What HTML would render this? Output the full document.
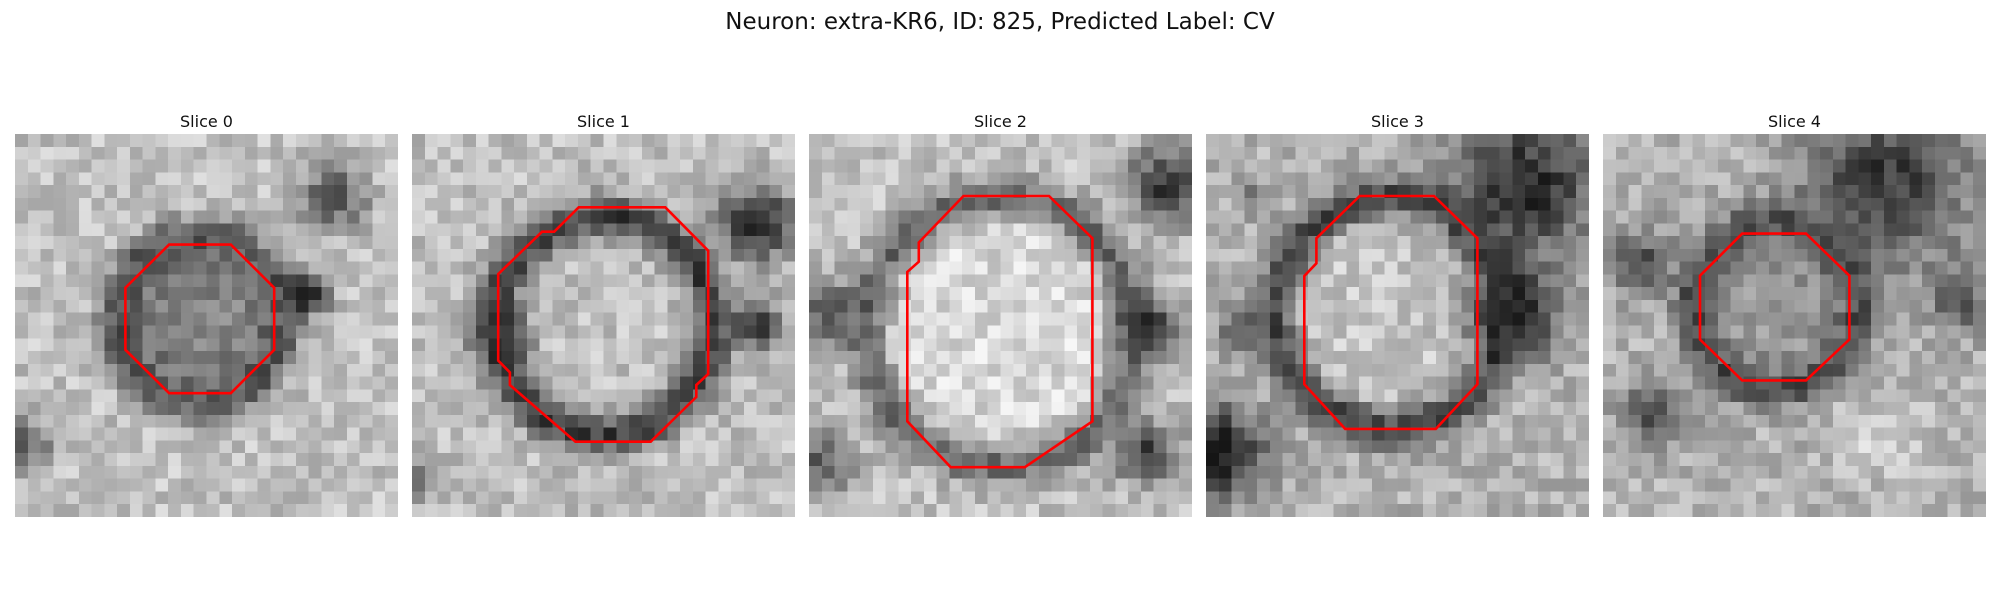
<!DOCTYPE html>
<html><head><meta charset="utf-8"><style>
body{margin:0;background:#fff;width:2000px;height:600px;overflow:hidden;font-family:"DejaVu Sans","Liberation Sans",sans-serif;position:relative}
#title{position:absolute;left:0;width:2000px;top:9px;text-align:center;font-size:23px;color:#111}
.st{position:absolute;top:112px;width:383px;text-align:center;font-size:16px;color:#111}
canvas{position:absolute;top:134px;width:383px;height:383px;image-rendering:pixelated}
svg{position:absolute;left:0;top:0}
</style></head><body>
<div id="title">Neuron: extra-KR6, ID: 825, Predicted Label: CV</div>
<div id="wrap"></div>
<svg id="ov" width="2000" height="600"></svg>
<script>
const panelX=[15,412,809,1206,1603];
const sliceNames=["Slice 0","Slice 1","Slice 2","Slice 3","Slice 4"];
const polys=[
[[12.07,8.66],[16.9,8.66],[20.3,12.05],[20.3,16.9],[16.9,20.3],[12.07,20.3],[8.65,16.9],[8.65,12.05]],
[[13.06,5.74],[19.84,5.74],[23.2,9.14],[23.2,18.8],[22.27,19.66],[22.27,20.6],[18.7,24.1],[12.8,24.1],[7.67,19.66],[7.67,18.67],[6.75,17.75],[6.75,10.97],[10.19,7.65],[11.14,7.65]],
[[12.1,4.86],[18.8,4.86],[22.2,8.17],[22.2,22.5],[16.9,26.1],[11.1,26.1],[7.7,22.5],[7.7,10.8],[8.6,10.0],[8.6,8.5]],
[[12.04,4.86],[17.86,4.86],[21.26,8.17],[21.26,19.6],[18,23.1],[10.9,23.1],[7.7,19.6],[7.7,11.12],[8.65,10.13],[8.65,8.17]],
[[10.9,7.8],[15.9,7.8],[19.3,11.1],[19.3,16.1],[15.9,19.3],[10.9,19.3],[7.6,16.1],[7.6,11.1]]
];
const centers=[[14.5,14.5],[15,15],[15,15.5],[14.5,14],[13.5,13.5]];
const radii=[6.5,8.5,10.5,9,6.5];
const inner=[0.5,0.76,0.85,0.78,0.6];
const ringv=[0.33,0.25,0.4,0.28,0.3];
const bgv=[0.76,0.75,0.76,0.7,0.7];
const blobs=[
[[23,12.5,1.6,0.05],[25,5,2.5,0.33],[0.5,24.5,2.2,0.35]],
[[27,7,2.8,0.1],[27,15,2,0.2],[7,16,2,0.15],[0,27,1.5,0.3]],
[[28,4,3,0.2],[26.5,15,2.5,0.22],[26.5,25,2.5,0.25],[1.5,14,2.5,0.35],[1,26,2.5,0.35]],
[[25,4,5.5,0.15],[24,14,3.5,0.1],[1,25,3.5,0.08],[3,15,2,0.3],[4,5,1.5,0.5]],
[[22,4,6.5,0.22],[28,13,2.5,0.35],[3,10,2.5,0.3],[4,22,2.5,0.3],[22,24,3,0.85]]
];
function hash(i,j,k){let h=(i*374761393+j*668265263+k*2147483647)|0;h=(h^(h>>>13))*1274126177|0;return ((h^(h>>>16))>>>0)/4294967295;}
const wrap=document.getElementById('wrap');
const ov=document.getElementById('ov');
const cell=383/30;
for(let p=0;p<5;p++){
  const t=document.createElement('div');t.className='st';t.style.left=panelX[p]+'px';t.textContent=sliceNames[p];
  
  
  wrap.appendChild(t);
  const c=document.createElement('canvas');c.width=30;c.height=30;c.style.left=panelX[p]+'px';
  
  
  wrap.appendChild(c);
  const g=c.getContext('2d');
  for(let y=0;y<30;y++)for(let x=0;x<30;x++){
    const dx=x+0.5-centers[p][0],dy=y+0.5-centers[p][1],d=Math.hypot(dx,dy);
    let v=d<radii[p]?inner[p]:bgv[p];
    const r=Math.exp(-Math.pow((d-radii[p])/1.6,2));
    v=v*(1-r)+ringv[p]*r;
    for(const b of blobs[p]){const bd=Math.hypot(x+0.5-b[0],y+0.5-b[1]);const w=Math.exp(-Math.pow(bd/b[2],2));v=v*(1-w)+b[3]*w;}
    v+=(hash(x,y,p)-0.5)*0.24;
    v=Math.max(0,Math.min(1,v));
    const q=Math.round(v*255);
    g.fillStyle=`rgb(${q},${q},${q})`;g.fillRect(x,y,1,1);
  }
  const pl=document.createElementNS('http://www.w3.org/2000/svg','polygon');
  pl.setAttribute('points',polys[p].map(pt=>(panelX[p]+pt[0]*cell).toFixed(1)+','+(134+pt[1]*cell).toFixed(1)).join(' '));
  pl.setAttribute('fill','none');pl.setAttribute('stroke','#ff0000');pl.setAttribute('stroke-width','2.6');
  
  
  ov.appendChild(pl);
}
</script>
</body></html>
